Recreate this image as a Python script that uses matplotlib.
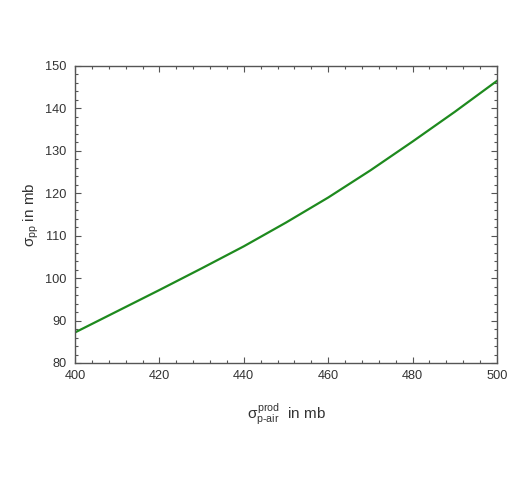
import matplotlib
matplotlib.use("Agg")

import matplotlib.pyplot as plt
from matplotlib.ticker import MultipleLocator

# sigma_p-air production (mb) vs sigma_pp (mb)
sigma_pair = [400, 410, 420, 430, 440, 450, 460, 470, 480, 490, 500]
sigma_pp = [87.2, 92.2, 97.2, 102.3, 107.5, 113.1, 119.0, 125.4, 132.2, 139.2, 146.5]

AXIS_COL = "#555555"
LINE_COL = "#1e8a1e"

plt.rcParams["font.family"] = ["Liberation Sans", "DejaVu Sans"]
plt.rcParams["mathtext.fontset"] = "custom"
plt.rcParams["mathtext.rm"] = "Liberation Sans"
plt.rcParams["mathtext.it"] = "Liberation Sans"

fig = plt.figure(figsize=(5.26, 4.78), dpi=100)
ax = fig.add_axes([75 / 526, 1 - 363 / 478, 422 / 526, 297 / 478])

ax.plot(sigma_pair, sigma_pp, color=LINE_COL, lw=1.6)

ax.set_xlim(400, 500)
ax.set_ylim(80, 150)
ax.xaxis.set_major_locator(MultipleLocator(20))
ax.xaxis.set_minor_locator(MultipleLocator(4))
ax.yaxis.set_major_locator(MultipleLocator(10))
ax.yaxis.set_minor_locator(MultipleLocator(2))
ax.tick_params(which="both", direction="in", top=True, right=True,
               colors=AXIS_COL, labelcolor="#333333", labelsize=9.2, width=0.8)
ax.tick_params(which="major", length=4)
ax.tick_params(which="minor", length=2)
ax.tick_params(axis="x", pad=5)
ax.tick_params(axis="y", pad=6)
for s in ax.spines.values():
    s.set_color(AXIS_COL)
    s.set_linewidth(1.0)

ax.set_ylabel(r"$\sigma_{\rm pp}$ in mb", fontsize=11, color="#333333", labelpad=3)
ax.set_xlabel(r"$\sigma^{\rm prod}_{\rm p\text{-}air}$  in mb",
              fontsize=11, color="#333333", labelpad=14)

plt.savefig("out.png", dpi=100)
